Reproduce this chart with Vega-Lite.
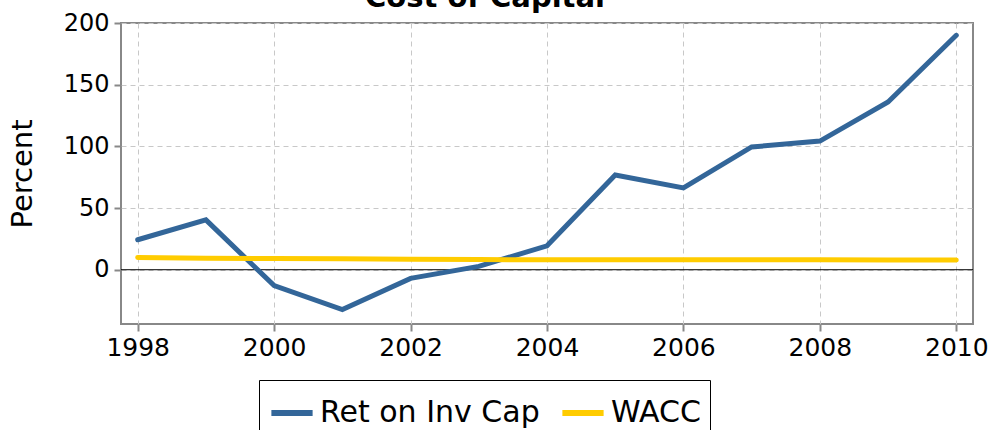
{
  "$schema": "https://vega.github.io/schema/vega-lite/v6.json",
  "width": 852,
  "height": 301,
  "autosize": {"type": "none"},
  "padding": {"left": 121, "top": 23, "right": 19, "bottom": 106},
  "background": "white",
  "title": {
    "text": "Cost of Capital",
    "font": "DejaVu Sans",
    "fontSize": 29,
    "fontWeight": "bold",
    "color": "black",
    "anchor": "middle",
    "frame": "group",
    "dx": -62,
    "baseline": "alphabetic",
    "offset": 0,
    "dy": 25
  },
  "config": {
    "font": "DejaVu Sans",
    "view": {"stroke": "#888888", "strokeWidth": 2},
    "axis": {
      "gridColor": "#c8c8c8",
      "gridDash": [5, 4],
      "gridWidth": 1,
      "domain": false,
      "tickColor": "#888888",
      "tickSize": 7,
      "tickWidth": 2,
      "labelColor": "black",
      "labelFont": "DejaVu Sans",
      "titleFont": "DejaVu Sans",
      "titleColor": "black",
      "titleFontWeight": "normal"
    }
  },
  "datasets": {
    "rows": [
      {"year": 1998, "series": "Ret on Inv Cap", "value": 24.3},
      {"year": 1999, "series": "Ret on Inv Cap", "value": 40.4},
      {"year": 2000, "series": "Ret on Inv Cap", "value": -12.9},
      {"year": 2001, "series": "Ret on Inv Cap", "value": -32.3},
      {"year": 2002, "series": "Ret on Inv Cap", "value": -7.0},
      {"year": 2003, "series": "Ret on Inv Cap", "value": 2.7},
      {"year": 2004, "series": "Ret on Inv Cap", "value": 19.4},
      {"year": 2005, "series": "Ret on Inv Cap", "value": 76.8},
      {"year": 2006, "series": "Ret on Inv Cap", "value": 66.3},
      {"year": 2007, "series": "Ret on Inv Cap", "value": 99.5},
      {"year": 2008, "series": "Ret on Inv Cap", "value": 104.3},
      {"year": 2009, "series": "Ret on Inv Cap", "value": 136.0},
      {"year": 2010, "series": "Ret on Inv Cap", "value": 190.0},
      {"year": 1998, "series": "WACC", "value": 10.0},
      {"year": 1999, "series": "WACC", "value": 9.2},
      {"year": 2000, "series": "WACC", "value": 9.0},
      {"year": 2001, "series": "WACC", "value": 8.8},
      {"year": 2002, "series": "WACC", "value": 8.5},
      {"year": 2003, "series": "WACC", "value": 8.2},
      {"year": 2004, "series": "WACC", "value": 8.0},
      {"year": 2005, "series": "WACC", "value": 8.0},
      {"year": 2006, "series": "WACC", "value": 8.0},
      {"year": 2007, "series": "WACC", "value": 8.0},
      {"year": 2008, "series": "WACC", "value": 8.0},
      {"year": 2009, "series": "WACC", "value": 7.9},
      {"year": 2010, "series": "WACC", "value": 7.8}
    ],
    "zero": [{"y": 0}]
  },
  "layer": [
    {
      "data": {"name": "zero"},
      "mark": {"type": "rule", "color": "black", "strokeWidth": 1},
      "encoding": {
        "y": {"field": "y", "type": "quantitative", "scale": {"domain": [-44, 200], "nice": false, "zero": false}}
      }
    },
    {
      "data": {"name": "rows"},
      "mark": {"type": "line", "strokeWidth": 5, "strokeCap": "round", "strokeJoin": "miter"},
      "encoding": {
        "x": {
          "field": "year",
          "type": "quantitative",
          "scale": {"domain": [1997.755, 2010.245], "nice": false, "zero": false},
          "axis": {
            "title": null,
            "values": [1998, 2000, 2002, 2004, 2006, 2008, 2010],
            "format": "d",
            "labelFontSize": 25,
            "labelPadding": 4
          }
        },
        "y": {
          "field": "value",
          "type": "quantitative",
          "scale": {"domain": [-44, 200], "nice": false, "zero": false},
          "axis": {
            "title": "Percent",
            "values": [0, 50, 100, 150, 200],
            "labelFontSize": 24,
            "labelPadding": 5,
            "titleFontSize": 29,
            "titlePadding": 26
          }
        },
        "color": {
          "field": "series",
          "type": "nominal",
          "scale": {"domain": ["Ret on Inv Cap", "WACC"], "range": ["#336699", "#ffcc00"]},
          "legend": {
            "title": null,
            "orient": "none",
            "direction": "horizontal",
            "legendX": 138,
            "legendY": 357,
            "symbolType": "stroke",
            "symbolSize": 1700,
            "symbolStrokeWidth": 6,
            "labelFontSize": 30,
            "labelFont": "DejaVu Sans",
            "labelColor": "black",
            "labelLimit": 400,
            "strokeColor": "black",
            "padding": 9,
            "columnPadding": 10,
            "symbolOffset": 0
          }
        }
      }
    }
  ]
}
